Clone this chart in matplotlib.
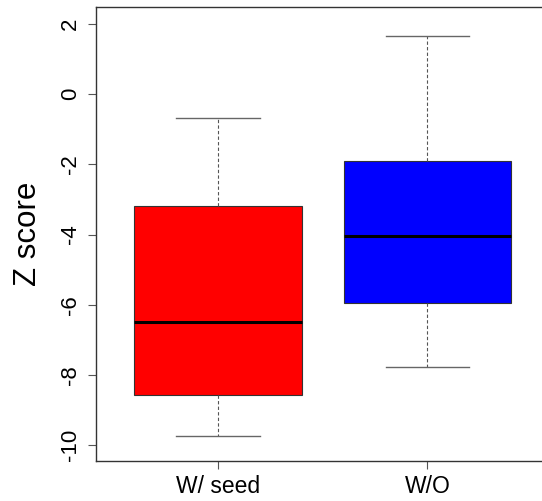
import matplotlib.pyplot as plt

plt.rcParams['font.family'] = ['Liberation Sans', 'DejaVu Sans']

# summary stats
groups = ['W/ seed', 'W/O']
whisker_low = [-9.74, -7.79]
q1 = [-8.58, -5.95]
medians = [-6.49, -4.05]
q3 = [-3.18, -1.91]
whisker_high = [-0.69, 1.66]
box_colors = ['#ff0000', '#0000ff']
yticks = [-10, -8, -6, -4, -2, 0, 2]

stats = []
for g, lo, a, m, b, hi in zip(groups, whisker_low, q1, medians, q3, whisker_high):
    stats.append(dict(label=g, whislo=lo, q1=a, med=m, q3=b, whishi=hi))

fig = plt.figure(figsize=(5.42, 5.01), dpi=100)
# right edge of the frame sits outside the picture, like the cropped original
ax = fig.add_axes([96 / 542, 40 / 501, 453 / 542, 454 / 501])

bp = ax.bxp(stats, positions=[1, 2], widths=0.8, capwidths=0.4,
            patch_artist=True, showfliers=False,
            boxprops=dict(edgecolor='#333333', linewidth=0.8),
            medianprops=dict(color='black', linewidth=2.2),
            whiskerprops=dict(color='#555555', linestyle=(0, (3, 2)), linewidth=0.8),
            capprops=dict(color='#666666', linewidth=1.0))
for patch, c in zip(bp['boxes'], box_colors):
    patch.set_facecolor(c)

ax.set_xlim(0.418, 2.58)
ax.set_ylim(-10.46, 2.49)
ax.set_yticks(yticks)
ax.set_yticklabels([str(t) for t in yticks], rotation=90, va='center')
ax.set_xticks([1, 2])
ax.set_xticklabels(groups)
ax.tick_params(axis='both', labelsize=16, length=6, width=0.8, color='#555555')
ax.tick_params(axis='y', pad=5)
ax.tick_params(axis='x', labelsize=16.5, pad=4)

for side in ['left', 'top', 'bottom', 'right']:
    ax.spines[side].set_color('#333333')
    ax.spines[side].set_linewidth(1.0)

ax.set_ylabel('Z score', fontsize=22.5, labelpad=12)

fig.savefig('out.png', dpi=100)
